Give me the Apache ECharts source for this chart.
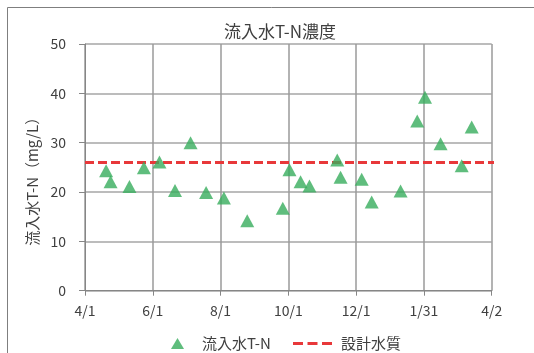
<!DOCTYPE html>
<html>
<head>
<meta charset="utf-8">
<script src="https://cdn.jsdelivr.net/npm/echarts@6/dist/echarts.min.js"></script>
<style>
  html, body { margin: 0; padding: 0; background: #fff; }
  #chart { width: 534px; height: 353px; }
</style>
</head>
<body>
<div id="chart"></div>
<script>
// Sampling dates and measured influent T-N (mg/L)
const sampleDates = [
  '2021-04-20', '2021-04-24', '2021-05-11', '2021-05-24', '2021-06-07', '2021-06-21',
  '2021-07-05', '2021-07-19', '2021-08-04', '2021-08-25', '2021-09-26', '2021-10-02',
  '2021-10-12', '2021-10-20', '2021-11-14', '2021-11-17', '2021-12-06', '2021-12-15',
  '2022-01-10', '2022-01-25', '2022-02-01', '2022-02-15', '2022-03-06', '2022-03-15'
];
const tnValues = [
  24.3, 22.1, 21.1, 24.9, 26.1, 20.3,
  30.0, 19.9, 18.8, 14.2, 16.7, 24.5,
  22.1, 21.2, 26.5, 23.0, 22.6, 18.0,
  20.2, 34.4, 39.2, 29.8, 25.3, 33.2
];
// Design water quality (mg/L), drawn across the whole fiscal year
const designValue = 26;
const designDates = ['2021-04-01', '2022-04-05'];

// Axis range: 4/1 to 4/2 of the following year, ticks every 61 days
const axisStart = '2021-04-01';
const axisEnd = '2022-04-02';
const tickDays = 61;
const yTicks = [0, 10, 20, 30, 40, 50];

const DAY = 86400000;
const t0 = Date.parse(axisStart + 'T00:00:00Z');
const toDay = s => Math.round((Date.parse(s + 'T00:00:00Z') - t0) / DAY);
const dayLabel = d => {
  const dt = new Date(t0 + d * DAY);
  return (dt.getUTCMonth() + 1) + '/' + dt.getUTCDate();
};

const tnData = sampleDates.map((d, i) => [toDay(d), tnValues[i]]);
const designData = designDates.map(d => [toDay(d), designValue]);

const textColor = '#404040';
const fontFamily = '"Noto Sans CJK JP", "Noto Sans", sans-serif';
const green = '#37ad5d';
const red = '#e8383a';

const chart = echarts.init(document.getElementById('chart'), null, { renderer: 'canvas' });
chart.setOption({
  animation: false,
  backgroundColor: '#ffffff',
  textStyle: { fontFamily: fontFamily },
  title: {
    text: '流入水T-N濃度',
    left: 275, top: 18,
    textAlign: 'center',
    textStyle: { fontSize: 17, fontWeight: 'normal', color: textColor, fontFamily: fontFamily }
  },
  graphic: [{
    type: 'rect',
    shape: { x: 7.5, y: 7.5, width: 600, height: 400 },
    style: { fill: 'none', stroke: '#7f7f7f', lineWidth: 1 },
    silent: true
  }],
  grid: { left: 85, right: 42.3, top: 44, bottom: 62.3 },
  legend: [{
    data: [{ name: '流入水T-N', icon: 'triangle' }],
    left: 166, top: 331,
    itemWidth: 13, itemHeight: 11,
    itemStyle: { color: green },
    textStyle: { fontSize: 15, color: textColor, fontFamily: fontFamily, padding: [0, 0, 0, 13] }
  }, {
    data: [{ name: '設計水質', icon: 'path://M0,0H10V3H0Z M14.5,0H24.5V3H14.5Z M29,0H39V3H29Z' }],
    left: 288, top: 331,
    itemWidth: 39, itemHeight: 3,
    itemStyle: { color: red },
    textStyle: { fontSize: 15, color: textColor, fontFamily: fontFamily, padding: [0, 0, 0, 4] }
  }],
  xAxis: {
    type: 'value',
    min: 0, max: toDay(axisEnd), interval: tickDays,
    axisLine: { show: true, onZero: false, lineStyle: { color: '#868686', width: 1 } },
    axisTick: { show: true, length: 5, lineStyle: { color: '#868686' } },
    axisLabel: { formatter: v => dayLabel(v), fontSize: 14, color: textColor, margin: 13, fontFamily: fontFamily },
    splitLine: { show: true, lineStyle: { color: '#9a9a9a', width: 1.5 } }
  },
  yAxis: {
    type: 'value',
    min: yTicks[0], max: yTicks[yTicks.length - 1], interval: yTicks[1] - yTicks[0],
    name: '流入水T-N（mg/L）',
    nameLocation: 'middle', nameGap: 45, nameRotate: 90,
    nameTextStyle: { fontSize: 15, color: textColor, fontFamily: fontFamily, padding: [0, 21, 0, 0] },
    axisLine: { show: true, lineStyle: { color: '#868686', width: 1 } },
    axisTick: { show: true, length: 6, lineStyle: { color: '#868686' } },
    axisLabel: { fontSize: 14, color: textColor, margin: 19, fontFamily: fontFamily },
    splitLine: { show: true, lineStyle: { color: '#a6a6a6', width: 1.5 } }
  },
  series: [{
    name: '流入水T-N',
    type: 'scatter',
    symbol: 'triangle',
    symbolSize: [14, 13],
    itemStyle: { color: green },
    data: tnData,
    z: 3
  }, {
    name: '設計水質',
    type: 'line',
    showSymbol: false,
    symbol: 'none',
    clip: false,
    lineStyle: { color: red, width: 3, type: [9, 4] },
    itemStyle: { color: red },
    data: designData,
    z: 2
  }]
});
</script>
</body>
</html>
